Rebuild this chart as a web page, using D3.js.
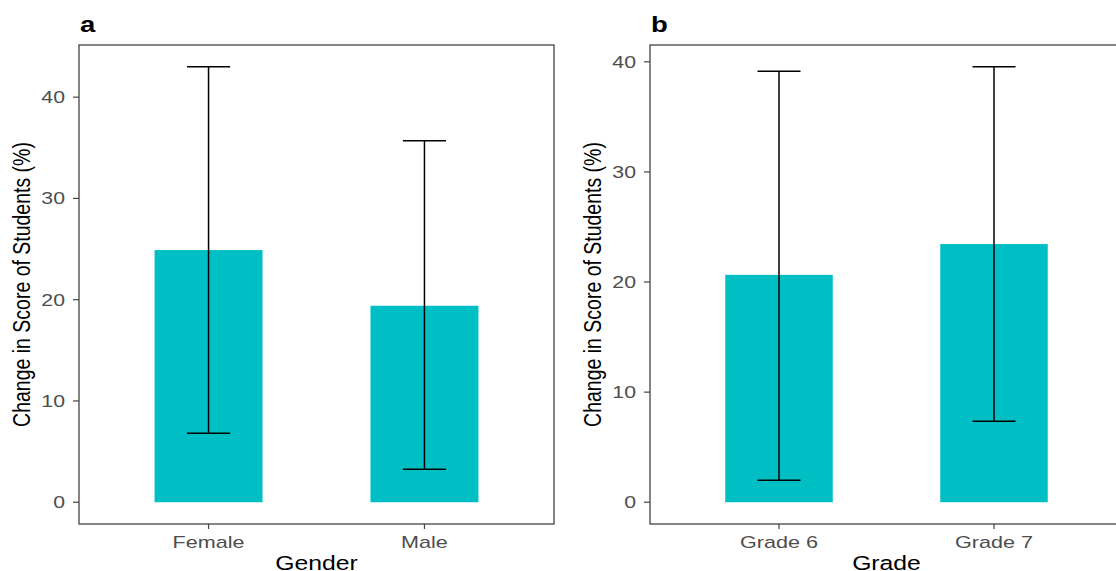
<!doctype html>
<html lang="en">
<head>
<meta charset="utf-8">
<style>
  body { margin: 0; background: #fff; }
  text { font-family: "Liberation Sans", Arial, Helvetica, sans-serif; }
</style>
</head>
<body>
<script src="https://d3js.org/d3.v7.min.js"></script>
<div id="chart"></div>
<script>
// values
var genderCats  = ["Female", "Male"];
var genderMean  = [24.9, 19.4];
var genderLower = [6.8, 3.25];
var genderUpper = [43.0, 35.7];

var gradeCats  = ["Grade 6", "Grade 7"];
var gradeMean  = [20.65, 23.45];
var gradeLower = [2.0, 7.35];
var gradeUpper = [39.15, 39.55];

var yTicks = [0, 10, 20, 30, 40];

var width = 1116, height = 571;
var sx = 1.33;      // the picture is stretched sideways, text too
var teal = "#00BFC4";

var svg = d3.select("#chart").append("svg")
            .attr("width", width)
            .attr("height", height);

function drawPanel(o) {
  var g = svg.append("g");
  var top = 45, bottom = 524;

  var maxV = d3.max(o.upper);
  var pad = maxV * 0.05;
  var y = d3.scaleLinear().domain([-pad, maxV + pad]).range([bottom, top]);
  var x = d3.scalePoint().domain(o.cats).range([o.left, o.right]).padding(0.6);
  var step = x.step();

  var rows = o.cats.map(function(c, i) {
    return {cat: c, mean: o.mean[i], lo: o.lower[i], hi: o.upper[i]};
  });

  // bars
  g.selectAll("rect.bar").data(rows).enter().append("rect")
   .attr("class", "bar")
   .attr("x", function(d) { return x(d.cat) - step * 0.25; })
   .attr("width", step * 0.5)
   .attr("y", function(d) { return y(d.mean); })
   .attr("height", function(d) { return y(0) - y(d.mean); })
   .attr("fill", teal);

  // error bars
  var eb = g.selectAll("g.eb").data(rows).enter().append("g")
            .attr("stroke", "#000").attr("stroke-width", 1.5).attr("fill", "none");
  eb.append("line")
    .attr("x1", function(d) { return x(d.cat); })
    .attr("x2", function(d) { return x(d.cat); })
    .attr("y1", function(d) { return y(d.lo); })
    .attr("y2", function(d) { return y(d.hi); });
  ["lo", "hi"].forEach(function(k) {
    eb.append("line")
      .attr("x1", function(d) { return x(d.cat) - step * 0.1; })
      .attr("x2", function(d) { return x(d.cat) + step * 0.1; })
      .attr("y1", function(d) { return y(d[k]); })
      .attr("y2", function(d) { return y(d[k]); });
  });

  // panel border
  g.append("rect")
   .attr("x", o.left).attr("y", top)
   .attr("width", o.right - o.left).attr("height", bottom - top)
   .attr("fill", "none").attr("stroke", "#444").attr("stroke-width", 1.3);

  // y ticks
  yTicks.forEach(function(t) {
    g.append("line")
     .attr("x1", o.left - 6).attr("x2", o.left)
     .attr("y1", y(t)).attr("y2", y(t))
     .attr("stroke", "#444").attr("stroke-width", 1.2);
    g.append("text")
     .attr("transform", "translate(" + (o.left - 14) + "," + (y(t) + 6) + ") scale(" + sx + ",1)")
     .attr("text-anchor", "end")
     .attr("font-size", 16)
     .attr("fill", "#4D4D4D")
     .text(t);
  });

  // x ticks
  o.cats.forEach(function(c) {
    g.append("line")
     .attr("x1", x(c)).attr("x2", x(c))
     .attr("y1", bottom).attr("y2", bottom + 5)
     .attr("stroke", "#444").attr("stroke-width", 1.2);
    g.append("text")
     .attr("transform", "translate(" + x(c) + "," + 548 + ") scale(" + (sx + 0.02) + ",1)")
     .attr("text-anchor", "middle")
     .attr("font-size", 16)
     .attr("fill", "#4D4D4D")
     .text(c);
  });

  // axis titles
  g.append("text")
   .attr("transform", "translate(" + ((o.left + o.right) / 2) + ",570) scale(1.27,1)")
   .attr("text-anchor", "middle")
   .attr("font-size", 19.5)
   .attr("fill", "#000")
   .text(o.xTitle);

  g.append("text")
   .attr("transform", "translate(" + (o.left - 49) + "," + ((top + bottom) / 2) + ") scale(1.27,1) rotate(-90)")
   .attr("text-anchor", "middle")
   .attr("font-size", 19.5)
   .attr("fill", "#000")
   .text("Change in Score of Students (%)");

  // panel tag
  g.append("text")
   .attr("transform", "translate(" + (o.left + 1) + ",32) scale(1.25,1)")
   .attr("font-size", 22)
   .attr("font-weight", "bold")
   .attr("fill", "#000")
   .text(o.tag);
}

drawPanel({tag: "a", left: 79, right: 554, cats: genderCats, mean: genderMean,
           lower: genderLower, upper: genderUpper, xTitle: "Gender"});
drawPanel({tag: "b", left: 650, right: 1123, cats: gradeCats, mean: gradeMean,
           lower: gradeLower, upper: gradeUpper, xTitle: "Grade"});
</script>
</body>
</html>
